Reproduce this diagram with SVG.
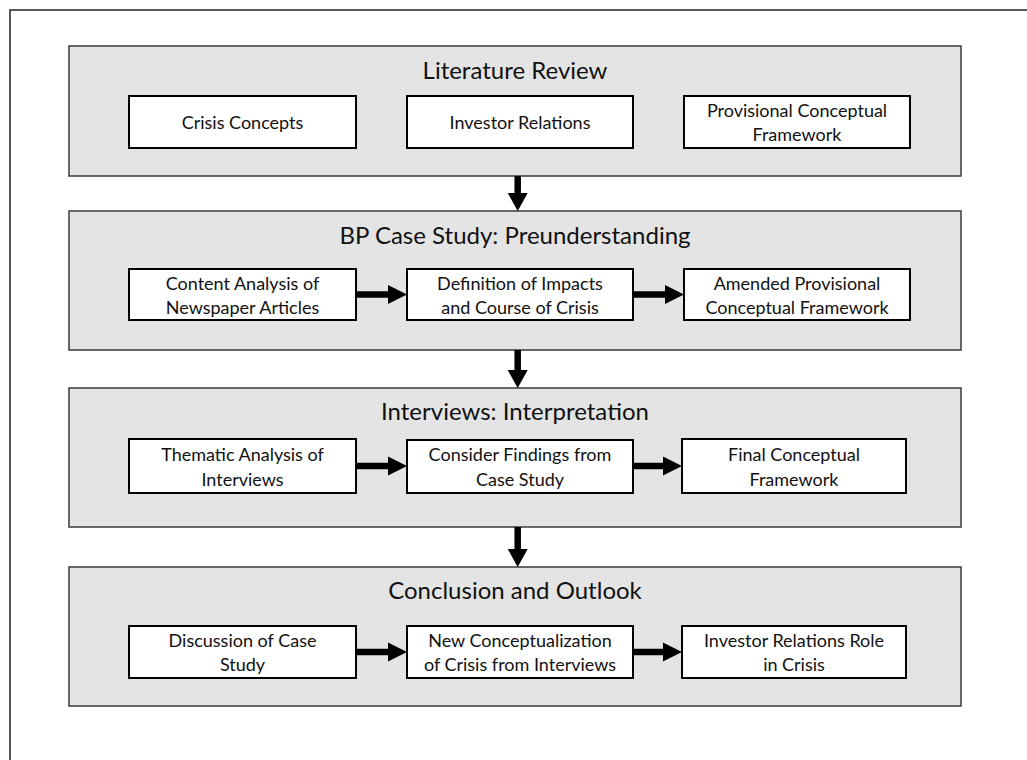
<svg xmlns="http://www.w3.org/2000/svg" width="1027" height="760" viewBox="0 0 1027 760">
  <style>
    .frame { fill: #ffffff; stroke: #222222; stroke-width: 1.5; }
    .panel { fill: #e4e4e4; stroke: #3a3a3a; stroke-width: 1.5; }
    .box { fill: #ffffff; stroke: #000000; stroke-width: 2; }
    .title { font-family: Lato, "Liberation Sans", sans-serif; font-size: 24px; fill: #111111; text-anchor: middle; }
    .label { font-family: Lato, "Liberation Sans", sans-serif; font-size: 18px; fill: #111111; text-anchor: middle; }
    .shaft { stroke: #000000; stroke-width: 6.5; fill: none; }
    .head { fill: #000000; }
  </style>

  <!-- outer frame: only the top and left edges fall inside the page -->
  <rect class="frame" x="10" y="10" width="1100" height="800"/>

  <!-- stage 1 -->
  <g id="literature-review">
    <rect class="panel" x="69" y="46" width="892" height="130"/>
    <text class="title" x="515" y="79">Literature Review</text>
    <g id="crisis-concepts">
      <rect class="box" x="129" y="96" width="227" height="52"/>
      <text class="label" x="242.5" y="129">Crisis Concepts</text>
    </g>
    <g id="investor-relations">
      <rect class="box" x="407" y="96" width="226" height="52"/>
      <text class="label" x="520" y="129">Investor Relations</text>
    </g>
    <g id="provisional-framework">
      <rect class="box" x="684" y="96" width="226" height="52"/>
      <text class="label" x="797" y="117">Provisional Conceptual</text>
      <text class="label" x="797" y="141">Framework</text>
    </g>
  </g>

  <!-- stage 2 -->
  <g id="bp-case-study">
    <rect class="panel" x="69" y="211" width="892" height="139"/>
    <text class="title" x="515" y="244">BP Case Study: Preunderstanding</text>
    <g id="content-analysis">
      <rect class="box" x="129" y="269" width="227" height="51"/>
      <text class="label" x="242.5" y="290">Content Analysis of</text>
      <text class="label" x="242.5" y="314">Newspaper Articles</text>
    </g>
    <g id="impacts-definition">
      <rect class="box" x="407" y="269" width="226" height="51"/>
      <text class="label" x="520" y="290">Definition of Impacts</text>
      <text class="label" x="520" y="314">and Course of Crisis</text>
    </g>
    <g id="amended-framework">
      <rect class="box" x="684" y="269" width="226" height="51"/>
      <text class="label" x="797" y="290">Amended Provisional</text>
      <text class="label" x="797" y="314">Conceptual Framework</text>
    </g>
  </g>

  <!-- stage 3 -->
  <g id="interviews">
    <rect class="panel" x="69" y="388" width="892" height="139"/>
    <text class="title" x="515" y="420">Interviews: Interpretation</text>
    <g id="thematic-analysis">
      <rect class="box" x="129" y="439" width="227" height="54"/>
      <text class="label" x="242.5" y="461">Thematic Analysis of</text>
      <text class="label" x="242.5" y="486">Interviews</text>
    </g>
    <g id="case-study-findings">
      <rect class="box" x="407" y="440" width="226" height="53"/>
      <text class="label" x="520" y="461">Consider Findings from</text>
      <text class="label" x="520" y="486">Case Study</text>
    </g>
    <g id="final-framework">
      <rect class="box" x="682" y="439" width="224" height="54"/>
      <text class="label" x="794" y="461">Final Conceptual</text>
      <text class="label" x="794" y="486">Framework</text>
    </g>
  </g>

  <!-- stage 4 -->
  <g id="conclusion">
    <rect class="panel" x="69" y="567" width="892" height="139"/>
    <text class="title" x="515" y="599">Conclusion and Outlook</text>
    <g id="case-discussion">
      <rect class="box" x="129" y="626" width="227" height="52"/>
      <text class="label" x="242.5" y="647">Discussion of Case</text>
      <text class="label" x="242.5" y="671">Study</text>
    </g>
    <g id="new-conceptualization">
      <rect class="box" x="407" y="626" width="226" height="52"/>
      <text class="label" x="520" y="647">New Conceptualization</text>
      <text class="label" x="520" y="671">of Crisis from Interviews</text>
    </g>
    <g id="ir-role">
      <rect class="box" x="682" y="626" width="224" height="52"/>
      <text class="label" x="794" y="647">Investor Relations Role</text>
      <text class="label" x="794" y="671">in Crisis</text>
    </g>
  </g>

  <!-- connectors -->
  <g id="connectors">
    <!-- between stages -->
    <line class="shaft" x1="517.7" y1="176" x2="517.7" y2="194"/>
    <polygon class="head" points="507.7,193 527.7,193 517.7,211"/>
    <line class="shaft" x1="517.7" y1="350" x2="517.7" y2="371"/>
    <polygon class="head" points="507.7,370 527.7,370 517.7,388"/>
    <line class="shaft" x1="517.7" y1="527" x2="517.7" y2="550"/>
    <polygon class="head" points="507.7,549 527.7,549 517.7,567"/>

    <!-- within stage 2 -->
    <line class="shaft" x1="356" y1="294.5" x2="389" y2="294.5"/>
    <polygon class="head" points="388,285 388,304 407,294.5"/>
    <line class="shaft" x1="633" y1="294.5" x2="666" y2="294.5"/>
    <polygon class="head" points="665,285 665,304 684,294.5"/>

    <!-- within stage 3 -->
    <line class="shaft" x1="356" y1="466" x2="389" y2="466"/>
    <polygon class="head" points="388,456.5 388,475.5 407,466"/>
    <line class="shaft" x1="633" y1="466" x2="664" y2="466"/>
    <polygon class="head" points="663,456.5 663,475.5 682,466"/>

    <!-- within stage 4 -->
    <line class="shaft" x1="356" y1="652" x2="389" y2="652"/>
    <polygon class="head" points="388,642.5 388,661.5 407,652"/>
    <line class="shaft" x1="633" y1="652" x2="664" y2="652"/>
    <polygon class="head" points="663,642.5 663,661.5 682,652"/>
  </g>
</svg>
